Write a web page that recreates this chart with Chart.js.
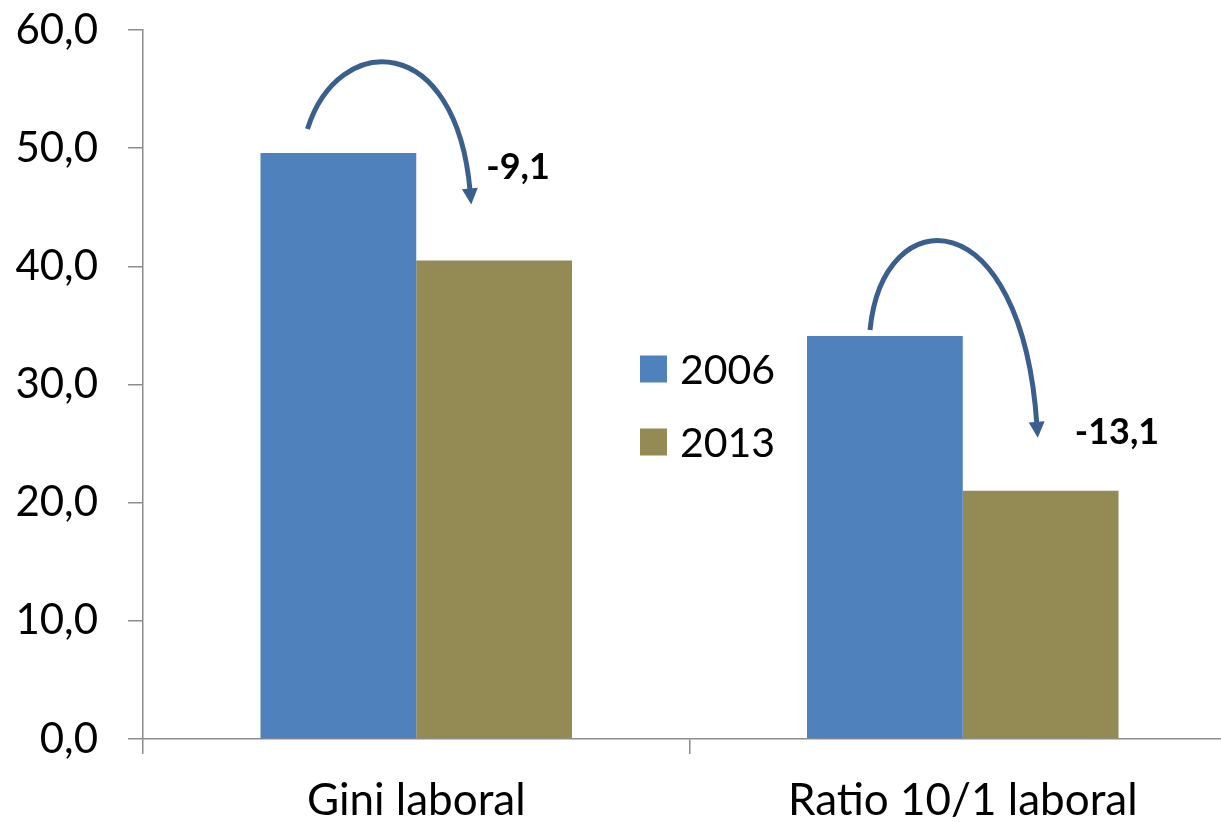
<!DOCTYPE html>
<html>
<head>
<meta charset="utf-8">
<script src="https://cdn.jsdelivr.net/npm/chart.js@4/dist/chart.umd.min.js"></script>
<style>
html,body{margin:0;padding:0;background:#fff;overflow:hidden;width:1221px;height:822px;}
#wrap{position:relative;width:1236px;height:822px;}
canvas{display:block;}
</style>
</head>
<body>
<div id="wrap"><canvas id="c" width="1236" height="822"></canvas></div>
<script>
const categories = ["Gini laboral", "Ratio 10/1 laboral"];
const seriesLabels = ["2006", "2013"];
const values2006 = [49.6, 34.1];
const values2013 = [40.5, 21.0];
const changeLabels = ["-9,1", "-13,1"];
const yTicks = [0, 10, 20, 30, 40, 50, 60];

const FONT = "Lato, 'Open Sans', sans-serif";
const AXIS = "#8c8c8c";
const ARROW = "#3a5f8f";

const overlay = {
  id: "overlay",
  afterDatasetsDraw(chart) {
    const ctx = chart.ctx;
    const m0 = chart.getDatasetMeta(0).data;
    const m1 = chart.getDatasetMeta(1).data;
    const shapes = [
      {s:[47,-24], c1:[78,-122], c2:[40,-122], e:[55,-56], lbl:[70,-93]},
      {s:[63,-6],  c1:[76,-138], c2:[59,-138], e:[75,-53], lbl:[112,-58]}
    ];
    for (let i = 0; i < categories.length; i++) {
      const b1 = m0[i], b2 = m1[i];
      const L1 = b1.x - b1.width/2, T1 = b1.y;
      const L2 = b2.x - b2.width/2, T2 = b2.y;
      const sh = shapes[i];
      const sx = L1 + sh.s[0], sy = T1 + sh.s[1];
      const c1x = L1 + sh.c1[0], c1y = T1 + sh.c1[1];
      const c2x = L2 + sh.c2[0], c2y = T1 + sh.c2[1];
      const ex = L2 + sh.e[0], ey = T2 + sh.e[1];
      const ang = Math.atan2(ey - c2y, ex - c2x);
      const head = 16;
      const lx = ex - Math.cos(ang)*head*0.8, ly = ey - Math.sin(ang)*head*0.8;
      ctx.save();
      ctx.strokeStyle = ARROW;
      ctx.lineWidth = 5;
      ctx.lineCap = "butt";
      ctx.beginPath();
      ctx.moveTo(sx, sy);
      ctx.bezierCurveTo(c1x, c1y, c2x, c2y, lx, ly);
      ctx.stroke();
      ctx.fillStyle = ARROW;
      ctx.beginPath();
      ctx.moveTo(ex, ey);
      ctx.lineTo(ex - Math.cos(ang)*head + Math.sin(ang)*8, ey - Math.sin(ang)*head - Math.cos(ang)*8);
      ctx.lineTo(ex - Math.cos(ang)*head - Math.sin(ang)*8, ey - Math.sin(ang)*head + Math.cos(ang)*8);
      ctx.closePath();
      ctx.fill();
      ctx.fillStyle = "#000";
      ctx.font = "bold 36px " + FONT;
      ctx.textAlign = "left";
      ctx.textBaseline = "middle";
      ctx.fillText(changeLabels[i], L2 + sh.lbl[0], T2 + sh.lbl[1]);
      ctx.restore();
    }
    const ds = chart.data.datasets;
    ctx.save();
    ctx.font = "41px " + FONT;
    ctx.textBaseline = "middle";
    ctx.textAlign = "left";
    const lx0 = 640, ly0 = 369, gap = 73;
    ds.forEach((d, k) => {
      ctx.fillStyle = d.backgroundColor;
      ctx.fillRect(lx0, ly0 + k*gap - 13.5, 27, 27);
      ctx.fillStyle = "#000";
      ctx.fillText(d.label, lx0 + 40, ly0 + k*gap + 2);
    });
    ctx.restore();
  }
};

new Chart(document.getElementById("c"), {
  type: "bar",
  data: {
    labels: categories,
    datasets: [
      {label: seriesLabels[0], data: values2006, backgroundColor: "#4f81bd"},
      {label: seriesLabels[1], data: values2013, backgroundColor: "#948a54"}
    ]
  },
  options: {
    responsive: false,
    animation: false,
    devicePixelRatio: 1,
    layout: {padding: 0},
    plugins: {legend: {display: false}, tooltip: {enabled: false}},
    datasets: {bar: {barPercentage: 1.0, categoryPercentage: 0.57}},
    scales: {
      x: {
        grid: {display: true, drawOnChartArea: false, offset: true, color: AXIS, tickLength: 15, lineWidth: 1.5},
        border: {color: AXIS, width: 1.5},
        ticks: {color: "#000", font: {family: FONT, size: 44}, padding: 20},
        afterFit(s) { s.height = 83; s.paddingLeft = 0; s.paddingRight = 0; }
      },
      y: {
        min: 0, max: 60,
        afterBuildTicks(s) { s.ticks = yTicks.map(v => ({value: v})); },
        grid: {display: true, drawOnChartArea: false, color: AXIS, tickLength: 15, lineWidth: 1.5},
        border: {color: AXIS, width: 1.5},
        ticks: {color: "#000", font: {family: FONT, size: 42}, padding: 30,
                callback: v => v.toFixed(1).replace(".", ",")},
        afterFit(s) { s.width = 143; s.paddingTop = 30; s.paddingBottom = 0; }
      }
    }
  },
  plugins: [overlay]
});
</script>
</body>
</html>
